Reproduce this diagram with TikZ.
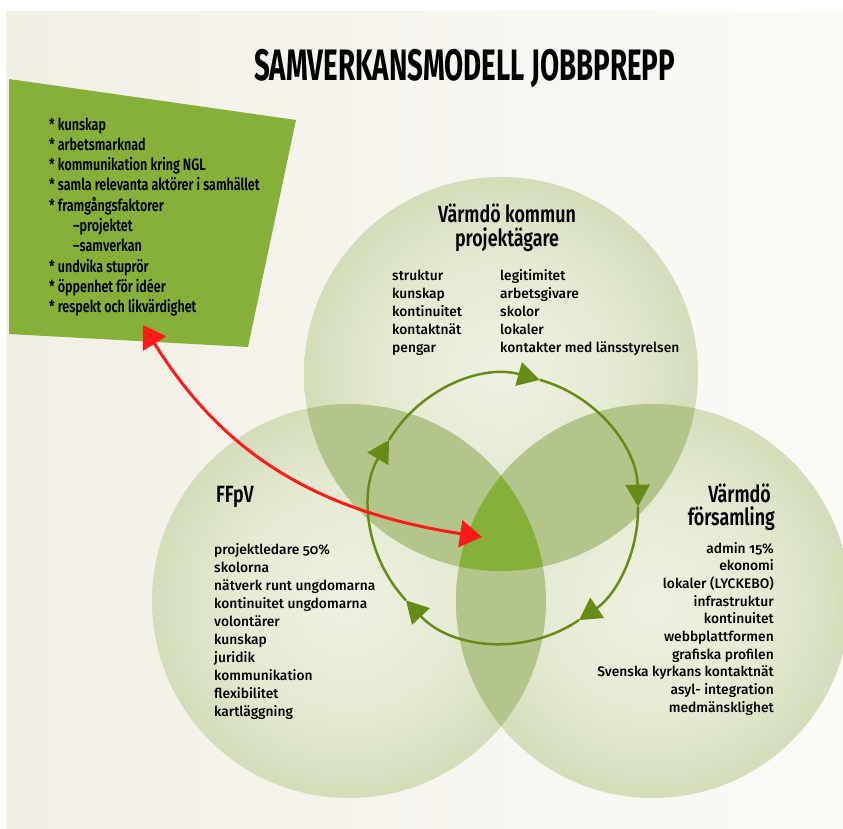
\documentclass[tikz,border=0pt]{standalone}
\usepackage{fontspec}
\setmainfont{Fira Sans Medium}[Numbers=OldStyle]
\newfontfamily\condf{Fira Sans SemiBold}[FakeStretch=0.76]
\newfontfamily\titlef{Fira Sans Bold}[FakeStretch=0.63]
\usetikzlibrary{arrows.meta,calc}
\definecolor{bgL}{HTML}{F2EFE5}
\definecolor{bgR}{HTML}{FBFAF7}
\definecolor{boxgreen}{HTML}{86B03A}
\definecolor{vlight}{HTML}{EEF1E1}
\definecolor{vmid}{HTML}{D6DFBD}
\definecolor{vout}{HTML}{B9CA92}
\definecolor{vpair}{HTML}{B4C58B}
\definecolor{vcore}{HTML}{86B03A}
\definecolor{cyc}{HTML}{678B17}
\definecolor{redarr}{HTML}{FF1A1A}
\pgfdeclareradialshading{venn}{\pgfpoint{0bp}{0bp}}{color(0bp)=(vlight); color(15bp)=(vlight!60!vmid); color(32bp)=(vmid!50!vout); color(50bp)=(vout); color(100bp)=(vout)}
\tikzset{
  boxtxt/.style={anchor=base west, inner sep=0, font=\condf\fontsize{16.5}{16.5}\selectfont},
  head/.style={inner sep=0, font=\condf\fontsize{23.5}{23.5}\selectfont},
  item/.style={anchor=base west, inner sep=0, font=\fontsize{13.8}{13.8}\selectfont},
  itemr/.style={anchor=base east, inner sep=0, font=\fontsize{13.8}{13.8}\selectfont},
  cycarrow/.style={draw=cyc, line width=2.5pt, -{Triangle[length=22pt,width=24pt]}},
  redarrow/.style={draw=redarr, line width=3pt, {Triangle[length=22pt,width=27pt]}-{Triangle[length=22pt,width=27pt]}}
}
\begin{document}
\begin{tikzpicture}[x=1pt,y=1pt]
\useasboundingbox (0,0) rectangle (843,-828);
\shade[left color=bgL,right color=bgR] (6,-11) rectangle (843,-828);
% green box
\fill[boxgreen] (9,-79) -- (296,-120) -- (248,-347) -- (9,-334) -- cycle;
% venn circles
\coordinate (T) at (501,-374);
\coordinate (L) at (349,-601);
\coordinate (R) at (653,-601);
\def\rr{197}
\shade[shading=venn] (T) circle[radius=\rr];
\shade[shading=venn] (L) circle[radius=\rr];
\shade[shading=venn] (R) circle[radius=\rr];
\begin{scope}
  \clip (T) circle[radius=\rr];
  \fill[vpair] (L) circle[radius=\rr];
  \fill[vpair] (R) circle[radius=\rr];
\end{scope}
\begin{scope}
  \clip (L) circle[radius=\rr];
  \fill[vpair] (R) circle[radius=\rr];
\end{scope}
\begin{scope}
  \clip (T) circle[radius=\rr];
  \clip (L) circle[radius=\rr];
  \fill[vcore] (R) circle[radius=\rr];
\end{scope}
% cycle
\coordinate (cc) at (504,-509);
\foreach \a/\b in {149/74.5, 74.5/1, 1/-56, -56/-137, -137/-211}
  \draw[cycarrow] ($(cc)+(\a:134)$) arc[start angle=\a, end angle=\b, radius=134];
% red arrow
\coordinate (boxtip) at (143,-325);
\coordinate (coretip) at (482,-537);
\draw[redarrow] (boxtip) .. controls (222,-452) and (314,-511) .. (coretip);
% title
\node[anchor=base west, inner sep=0] (title) at (254,-80) {\titlef\fontsize{44}{44}\selectfont SAMVERKANSMODELL JOBBPREPP};
% green box text
\foreach \x/\t [count=\i] in {49/{* kunskap}, 49/{* arbetsmarknad}, 49/{* kommunikation kring NGL}, 49/{* samla relevanta aktörer i samhället}, 49/{* framgångsfaktorer}, 73/{–projektet}, 73/{–samverkan}, 49/{* undvika stuprör}, 49/{* öppenhet för idéer}, 49/{* respekt och likvärdighet}}
  \node[boxtxt] (gb\i) at (\x,{-130-(\i-1)*20.3}) {\t};
% headers
\node[head, anchor=base] (th1) at (507,-222) {Värmdö kommun};
\node[head, anchor=base] (th2) at (507,-246) {projektägare};
\node[head, anchor=base west] (lh) at (216,-502) {FFpV};
\node[head, anchor=base east] (rh1) at (771,-502) {Värmdö};
\node[head, anchor=base east] (rh2) at (775,-525) {församling};
% top items
\foreach \t [count=\i] in {struktur, kunskap, kontinuitet, kontaktnät, pengar}
  \node[item] (ta\i) at (392,{-280-(\i-1)*18}) {\t};
\foreach \t [count=\i] in {legitimitet, arbetsgivare, skolor, lokaler, kontakter med länsstyrelsen}
  \node[item] (tb\i) at (500,{-280-(\i-1)*18}) {\t};
% left items
\foreach \t [count=\i] in {projektledare 50\%, skolorna, nätverk runt ungdomarna, kontinuitet ungdomarna, volontärer, kunskap, juridik, kommunikation, flexibilitet, kartläggning}
  \node[item] (li\i) at (214,{-554-(\i-1)*18}) {\t};
% right items
\foreach \t [count=\i] in {admin 15\%, ekonomi, lokaler (LYCKEBO), infrastruktur, kontinuitet, webbplattformen, grafiska profilen, Svenska kyrkans kontaktnät, asyl- integration, medmänsklighet}
  \node[itemr] (ri\i) at (774,{-553-(\i-1)*17.7}) {\t};
\end{tikzpicture}
\end{document}
